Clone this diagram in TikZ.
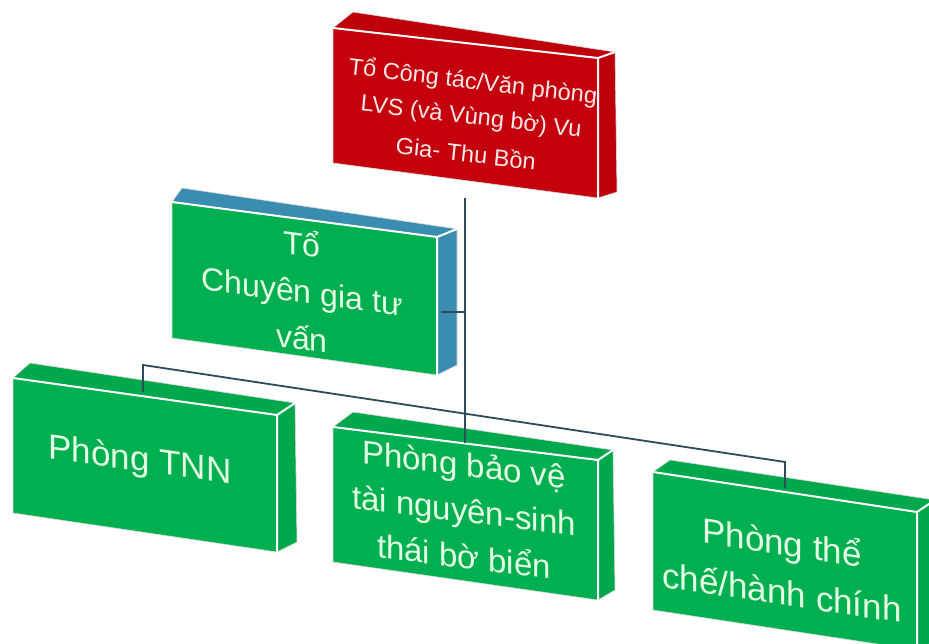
\documentclass[tikz,border=0pt]{standalone}
\usepackage{fontspec}
\setmainfont{Liberation Sans}
\definecolor{gfront}{RGB}{0,176,80}
\definecolor{gside}{RGB}{0,168,76}
\definecolor{rfront}{RGB}{196,0,12}
\definecolor{rside}{RGB}{190,0,10}
\definecolor{bside}{RGB}{58,140,176}
\definecolor{conn}{RGB}{45,75,90}
\definecolor{gtext}{RGB}{228,255,228}
\definecolor{rtext}{RGB}{255,232,232}
\tikzset{
  edge/.style={draw=white,line width=2pt,line join=round},
  rim/.style={draw=white!85!black,line width=0.6pt,line join=round},
  connector/.style={draw=conn,line width=1.8pt},
  gtxt/.style={text=gtext,align=center,inner sep=0pt},
  rtxt/.style={text=rtext,align=center,inner sep=0pt,yslant=-0.12,xslant=0.1,font=\fontsize{23.5}{35}\selectfont}
}
\newcommand\drawbox[3]{%
  \path[fill=#3,rim] (#1-ftl) -- (#1-btl) -- (#1-btr) -- (#1-ftr) -- cycle;
  \path[fill=#3,rim] (#1-ftr) -- (#1-btr) -- (#1-sbr) -- (#1-fbr) -- cycle;
  \path[fill=#2,rim] (#1-ftl) -- (#1-ftr) -- (#1-fbr) -- (#1-fbl) -- cycle;
  \draw[edge] (#1-ftl) -- (#1-ftr) -- (#1-fbr);
  \draw[edge] (#1-ftr) -- (#1-btr);
}
\begin{document}
\begin{tikzpicture}[x=1pt,y=-1pt]
\useasboundingbox (0,0) rectangle (929,643);
\clip (0,0) rectangle (929,643);
% red box
\coordinate (r-ftl) at (333,28);  \coordinate (r-ftr) at (598,58);
\coordinate (r-fbr) at (598,198); \coordinate (r-fbl) at (333,163);
\coordinate (r-btl) at (353,12);  \coordinate (r-btr) at (615,52);
\coordinate (r-sbr) at (617,192);
% advisor box
\coordinate (a-ftl) at (172,202); \coordinate (a-ftr) at (437,237);
\coordinate (a-fbr) at (437,375); \coordinate (a-fbl) at (172,338);
\coordinate (a-btl) at (182,188); \coordinate (a-btr) at (457,229);
\coordinate (a-sbr) at (457,365);
% TNN box
\coordinate (t-ftl) at (13,378);  \coordinate (t-ftr) at (277,415);
\coordinate (t-fbr) at (277,552); \coordinate (t-fbl) at (13,513);
\coordinate (t-btl) at (30,363);  \coordinate (t-btr) at (295,403);
\coordinate (t-sbr) at (297,542);
% middle box
\coordinate (m-ftl) at (333,427); \coordinate (m-ftr) at (598,460);
\coordinate (m-fbr) at (598,600); \coordinate (m-fbl) at (333,562);
\coordinate (m-btl) at (353,412); \coordinate (m-btr) at (613,450);
\coordinate (m-sbr) at (615,590);
% right box
\coordinate (h-ftl) at (653,472); \coordinate (h-ftr) at (917,512);
\coordinate (h-fbr) at (917,650); \coordinate (h-fbl) at (653,610);
\coordinate (h-btl) at (670,460); \coordinate (h-btr) at (935,500);
\coordinate (h-sbr) at (937,640);

\drawbox{r}{rfront}{rside}
\drawbox{a}{gfront}{bside}
\drawbox{t}{gfront}{gside}
\drawbox{m}{gfront}{gside}
\drawbox{h}{gfront}{gside}

% connector points
\coordinate (trunktop) at (465,198);
\coordinate (trunkbot) at (465,443);
\coordinate (advstub) at (441,312);
\coordinate (trunkadv) at (465,312);
\coordinate (busL) at (143,365);
\coordinate (busR) at (785,462);
\coordinate (dropL) at (143,392);
\coordinate (dropR) at (785,488);
\draw[connector] (trunktop) -- (trunkbot);
\draw[connector] (advstub) -- (trunkadv);
\draw[connector] (dropL) -- (busL) -- (busR) -- (dropR);

% texts
\node[rtxt] (rtext1) at (473,82) {Tổ Công tác/Văn phòng};
\node[rtxt] (rtext2) at (471,118) {LVS (và Vùng bờ) Vu};
\node[rtxt] (rtext3) at (466,153) {Gia- Thu Bồn};
\node[gtxt,yslant=-0.13,font=\fontsize{32}{47}\selectfont] (atext) at (302,290)
  {Tổ\\Chuyên gia tư\\vấn};
\node[gtxt,yslant=-0.14,font=\fontsize{35}{42}\selectfont] (ttext) at (140,462)
  {Phòng TNN};
\node[gtxt,yslant=-0.125,font=\fontsize{33}{46}\selectfont] (mtext) at (464,510)
  {Phòng bảo vệ\\tài nguyên-sinh\\thái bờ biển};
\node[gtxt,yslant=-0.15,font=\fontsize{35}{50}\selectfont] (htext) at (782,566)
  {Phòng thể\\chế/hành chính};
\end{tikzpicture}
\end{document}
